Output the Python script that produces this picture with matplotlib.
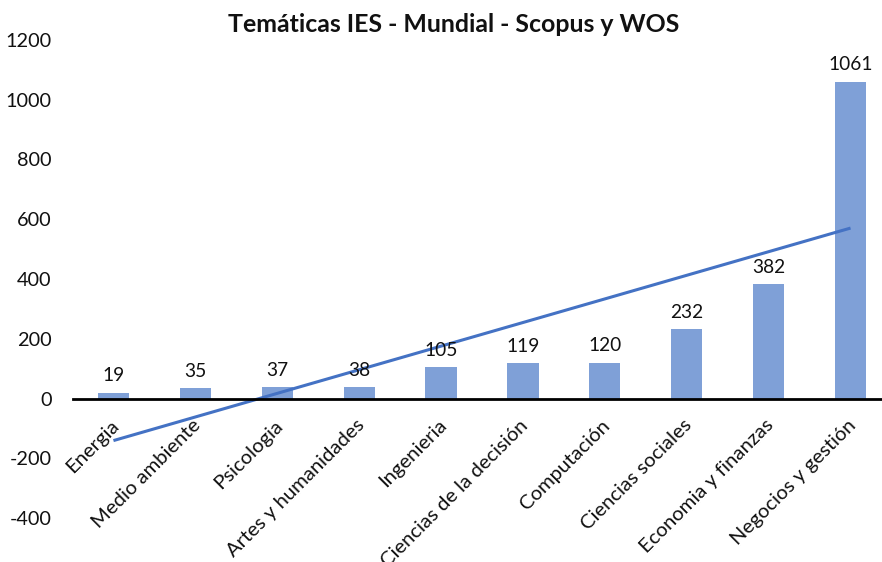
import numpy as np
import matplotlib
matplotlib.use("Agg")
import matplotlib.pyplot as plt

categories = ["Energia", "Medio ambiente", "Psicologia", "Artes y humanidades",
              "Ingenieria", "Ciencias de la decisión", "Computación",
              "Ciencias sociales", "Economia y finanzas", "Negocios y gestión"]
values = [19, 35, 37, 38, 105, 119, 120, 232, 382, 1061]
yticks = [-400, -200, 0, 200, 400, 600, 800, 1000, 1200]
title = "Temáticas IES - Mundial - Scopus y WOS"

plt.rcParams['font.family'] = ['Lato', 'DejaVu Sans']

W, H = 882, 562
fig = plt.figure(figsize=(W / 100, H / 100), dpi=100)
left, right = 72.5 / W, 891.5 / W
bottom, top = 1 - 518 / H, 1 - 40 / H
ax = fig.add_axes([left, bottom, right - left, top - bottom])

x = np.arange(len(categories))
ax.bar(x, values, width=0.38, color="#7FA0D7", zorder=2)

# linear trendline
xi = x + 1
coef = np.polyfit(xi, values, 1)
trend = np.polyval(coef, xi)
ax.plot(x, trend, color="#4472C4", lw=2.2, zorder=3, solid_capstyle='butt')

for xx, v in zip(x, values):
    ax.annotate(str(v), (xx, v), xytext=(0, 6), textcoords="offset points",
                ha="center", va="bottom", fontsize=13.8, color="#111111")

ax.set_xlim(-0.5, len(categories) - 0.5)
ax.set_ylim(-400, 1200)
ax.set_yticks(yticks)
ax.set_yticklabels([str(t) for t in yticks], fontsize=14.3, color="#111111")

for s in ["top", "right", "left"]:
    ax.spines[s].set_visible(False)
ax.spines["bottom"].set_position(("data", 0))
ax.spines["bottom"].set_linewidth(2)
ax.spines["bottom"].set_color("black")
ax.spines["bottom"].set_zorder(4)
ax.tick_params(axis="y", length=0, pad=15)
ax.tick_params(axis="x", length=0)
ax.set_xticks(x)
ax.set_xticklabels(categories, rotation=45, ha="right", rotation_mode="anchor",
                   fontsize=14.6, color="#111111")
for lbl in ax.get_xticklabels():
    lbl.set_transform(lbl.get_transform() + matplotlib.transforms.ScaledTranslation(-2.5 / 72, -9.5 / 72, fig.dpi_scale_trans))

fig.text(454 / W, 1 - 24 / H, title, ha="center", va="center",
         fontsize=17.9, fontweight="bold", color="#111111")

fig.savefig("out.png", dpi=100)
